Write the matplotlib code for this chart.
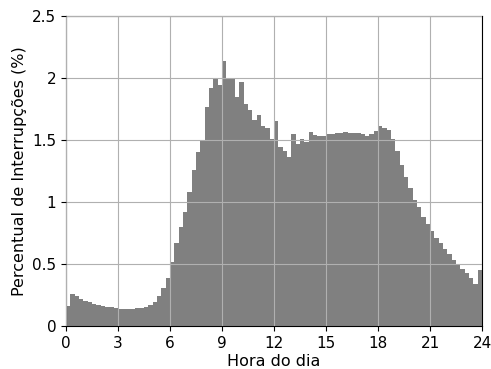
import matplotlib
matplotlib.use("Agg")
import matplotlib.pyplot as plt
import numpy as np

bin_width = 0.25
bin_start = [i * bin_width for i in range(96)]
percent = [
    0.164, 0.26, 0.245, 0.22, 0.205, 0.19, 0.18, 0.17,
    0.16, 0.157, 0.15, 0.145, 0.14, 0.14, 0.14, 0.14,
    0.143, 0.143, 0.155, 0.17, 0.196, 0.24, 0.31, 0.39,
    0.52, 0.67, 0.80, 0.92, 1.08, 1.26, 1.40, 1.50,
    1.77, 1.92, 1.99, 1.94, 2.14, 1.99, 1.99, 1.85,
    1.97, 1.79, 1.74, 1.66, 1.70, 1.61, 1.60, 1.51,
    1.656, 1.44, 1.41, 1.36, 1.55, 1.47, 1.51, 1.48,
    1.565, 1.54, 1.535, 1.535, 1.55, 1.545, 1.56, 1.56,
    1.565, 1.56, 1.56, 1.56, 1.55, 1.53, 1.55, 1.57,
    1.61, 1.60, 1.58, 1.51, 1.41, 1.30, 1.20, 1.11,
    1.02, 0.96, 0.88, 0.82, 0.77, 0.71, 0.67, 0.62,
    0.58, 0.53, 0.50, 0.46, 0.425, 0.39, 0.34, 0.45,
]
xticks = [0, 3, 6, 9, 12, 15, 18, 21, 24]
yticks = [0, 0.5, 1, 1.5, 2, 2.5]
ytick_labels = ["0", "0.5", "1", "1.5", "2", "2.5"]

fig = plt.figure(figsize=(4.91, 3.69), dpi=100)
ax = fig.add_axes([66/491, 1-326/369, 416/491, 310/369])
ax.bar(bin_start, percent, width=bin_width, align="edge", color="#808080", linewidth=0)
ax.set_xlim(0, 24)
ax.set_ylim(0, 2.5)
ax.set_xticks(xticks)
ax.set_yticks(yticks)
ax.set_yticklabels(ytick_labels)
ax.set_axisbelow(False)
ax.grid(True, color="#b0b0b0", linewidth=0.8)
ax.tick_params(labelsize=11)
ax.set_xlabel("Hora do dia", fontsize=11.5, labelpad=2)
ax.set_ylabel("Percentual de Interrupções (%)", fontsize=11.5)
fig.savefig("out.png", dpi=100)
